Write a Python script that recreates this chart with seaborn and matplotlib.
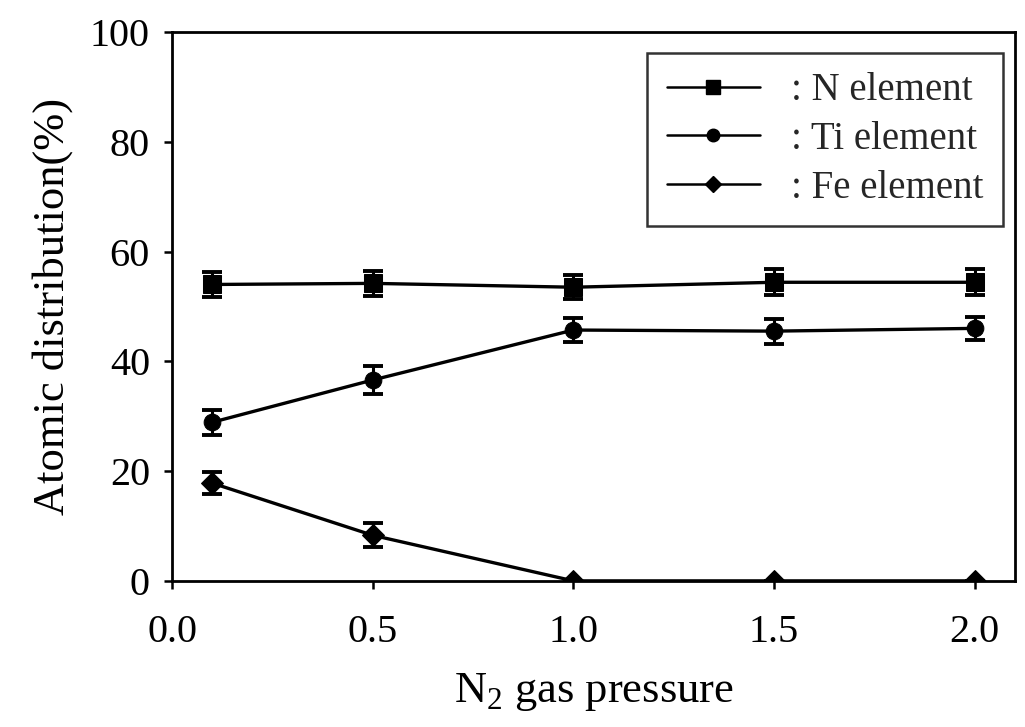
import pandas as pd
import matplotlib
matplotlib.use('Agg')
import matplotlib.pyplot as plt
import seaborn as sns
from matplotlib.lines import Line2D

# Values
pressure = [0.1, 0.5, 1.0, 1.5, 2.0]
n_elem = [54.0, 54.2, 53.5, 54.4, 54.4]
ti_elem = [28.9, 36.6, 45.7, 45.5, 46.0]
fe_elem = [17.8, 8.3, 0.0, 0.0, 0.0]
n_err = [2.2, 2.3, 2.2, 2.4, 2.4]
ti_err = [2.3, 2.5, 2.2, 2.3, 2.1]
fe_err = [2.0, 2.2, 0.0, 0.0, 0.0]

series = [
    (': N element', n_elem, n_err, 's'),
    (': Ti element', ti_elem, ti_err, 'o'),
    (': Fe element', fe_elem, fe_err, 'D'),
]
msizes = {'s': 13, 'o': 12, 'D': 11}

sns.set_theme(style='ticks')
plt.rcParams['font.family'] = ['Liberation Serif', 'DejaVu Serif']
plt.rcParams['mathtext.fontset'] = 'custom'
plt.rcParams['mathtext.rm'] = 'Liberation Serif'

fig = plt.figure(figsize=(10.25, 7.27), dpi=100)
ax = fig.add_axes([0.168, 0.201, 0.822, 0.755])

handles = []
for label, vals, errs, mk in series:
    df = pd.DataFrame({'x': pressure, 'y': vals})
    sns.lineplot(data=df, x='x', y='y', ax=ax, color='black', linewidth=2.4,
                 marker=mk, markersize=msizes[mk],
                 markeredgecolor='black', errorbar=None)
    ax.errorbar(pressure, vals, yerr=errs, fmt='none', ecolor='black',
                elinewidth=2.2, capsize=7, capthick=2.8)
    handles.append(Line2D([], [], color='black', linewidth=1.8, marker=mk,
                          markersize=msizes[mk] - 3, label=label))

ax.set_xlim(0, 2.1)
ax.set_ylim(0, 100)
ax.set_xticks([0.0, 0.5, 1.0, 1.5, 2.0])
ax.set_xticklabels(['0.0', '0.5', '1.0', '1.5', '2.0'])
ax.set_yticks([0, 20, 40, 60, 80, 100])
ax.tick_params(axis='both', labelsize=29, width=1.8, length=6, direction='out',
               colors='black')
ax.tick_params(axis='x', pad=18)
ax.tick_params(axis='y', pad=10)
for sp in ax.spines.values():
    sp.set_linewidth(2)
    sp.set_color('black')

ax.set_xlabel(r'N$_\mathrm{2}$ gas pressure', fontsize=32, labelpad=14, color='black')
ax.set_ylabel('Atomic distribution(%)', fontsize=32, labelpad=12, color='black')

leg = ax.legend(handles=handles, loc='upper right', fontsize=28, frameon=True,
                fancybox=False, edgecolor='black', handlelength=2.4,
                bbox_to_anchor=(1003 / 1025, 1 - 53 / 727),
                bbox_transform=fig.transFigure, borderaxespad=0,
                borderpad=0.5, labelspacing=0.3, handletextpad=0.8)
leg.get_frame().set_linewidth(1.8)

fig.savefig('out.png', dpi=100)
